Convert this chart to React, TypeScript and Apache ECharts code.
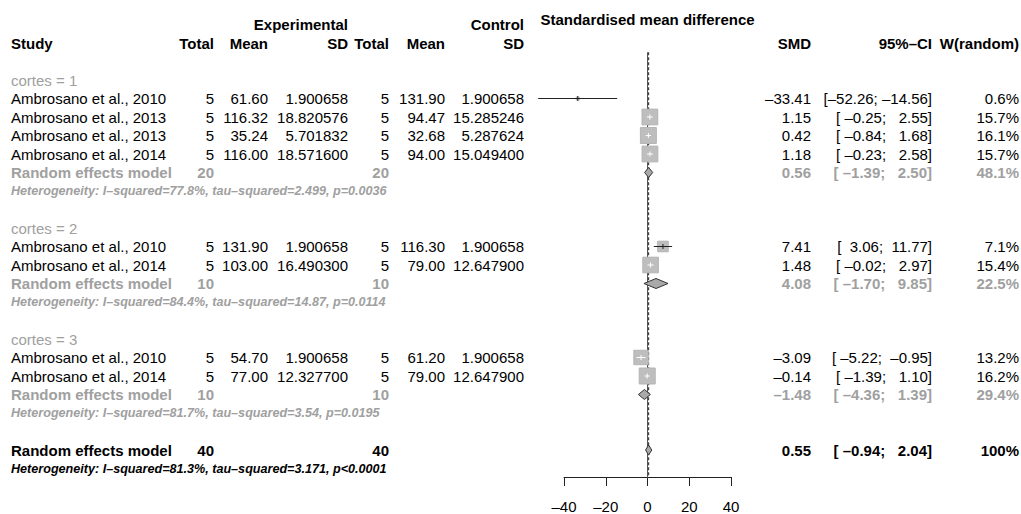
import React, { useEffect, useRef } from "react";
import * as echarts from "echarts";

// ---------- data ----------
const subgroups = ["cortes = 1", "cortes = 2", "cortes = 3"];
const studyNames = [
  "Ambrosano et al., 2010",
  "Ambrosano et al., 2013",
  "Ambrosano et al., 2013",
  "Ambrosano et al., 2014",
  "Ambrosano et al., 2010",
  "Ambrosano et al., 2014",
  "Ambrosano et al., 2010",
  "Ambrosano et al., 2014",
];
const studyGroup = [0, 0, 0, 0, 1, 1, 2, 2];
const totalE = [5, 5, 5, 5, 5, 5, 5, 5];
const meanE = [61.6, 116.32, 35.24, 116.0, 131.9, 103.0, 54.7, 77.0];
const sdE = [1.900658, 18.820576, 5.701832, 18.5716, 1.900658, 16.4903, 1.900658, 12.3277];
const totalC = [5, 5, 5, 5, 5, 5, 5, 5];
const meanC = [131.9, 94.47, 32.68, 94.0, 116.3, 79.0, 61.2, 79.0];
const sdC = [1.900658, 15.285246, 5.287624, 15.0494, 1.900658, 12.6479, 1.900658, 12.6479];
const smd = [-33.41, 1.15, 0.42, 1.18, 7.41, 1.48, -3.09, -0.14];
const ciLow = [-52.26, -0.25, -0.84, -0.23, 3.06, -0.02, -5.22, -1.39];
const ciHigh = [-14.56, 2.55, 1.68, 2.58, 11.77, 2.97, -0.95, 1.1];
const weight = [0.6, 15.7, 16.1, 15.7, 7.1, 15.4, 13.2, 16.2];

const subTotalE = [20, 10, 10];
const subTotalC = [20, 10, 10];
const subSmd = [0.56, 4.08, -1.48];
const subLow = [-1.39, -1.7, -4.36];
const subHigh = [2.5, 9.85, 1.39];
const subWeight = ["48.1%", "22.5%", "29.4%"];
const subI2 = ["77.8%", "84.4%", "81.7%"];
const subTau2 = ["2.499", "14.87", "3.54"];
const subP = ["p=0.0036", "p=0.0114", "p=0.0195"];

const allTotalE = 40;
const allTotalC = 40;
const allSmd = 0.55;
const allLow = -0.94;
const allHigh = 2.04;
const allWeight = "100%";
const allI2 = "81.3%";
const allTau2 = "3.171";
const allP = "p<0.0001";

const xTicks = { min: -40, max: 40, interval: 20 };

// ---------- helpers ----------
const FONT = "'Liberation Sans', Arial, Helvetica, sans-serif";
const BLACK = "#000000";
const GRAY = "#a0a0a0";
const dash = (s: string) => s.replace(/-/g, "\u2013");
const f2 = (v: number) => dash(v.toFixed(2));
const padL = (s: string, w: number) => " ".repeat(Math.max(0, w - s.length)) + s;
const ci = (lo: number, hi: number) => "[" + padL(f2(lo), 6) + "; " + padL(f2(hi), 6) + "]";
const het = (i2: string, t2: string, p: string) =>
  "Heterogeneity: I\u2013squared=" + i2 + ", tau\u2013squared=" + t2 + ", " + p;

// column anchors (layout)
const COL = {
  study: 11,
  nE: 214,
  meanE: 268,
  sdE: 348,
  nC: 389,
  meanC: 445,
  sdC: 524,
  smd: 811,
  ci: 932,
  w: 1019,
};
const HET_SIZE = 12.6;

type T = {
  pos: number;
  x: number;
  text: string;
  align?: string;
  color?: string;
  bold?: boolean;
  italic?: boolean;
  size?: number;
};

// ---------- row layout ----------
const studyPos: number[] = [];
const subPos: number[] = [];
const texts: T[] = [];
let pos = 0;
for (let g = 0; g < subgroups.length; g++) {
  texts.push({ pos, x: COL.study, text: subgroups[g], color: GRAY });
  pos++;
  for (let k = 0; k < studyNames.length; k++) {
    if (studyGroup[k] !== g) continue;
    studyPos[k] = pos;
    texts.push({ pos, x: COL.study, text: studyNames[k] });
    texts.push({ pos, x: COL.nE, text: String(totalE[k]), align: "right" });
    texts.push({ pos, x: COL.meanE, text: meanE[k].toFixed(2), align: "right" });
    texts.push({ pos, x: COL.sdE, text: sdE[k].toFixed(6), align: "right" });
    texts.push({ pos, x: COL.nC, text: String(totalC[k]), align: "right" });
    texts.push({ pos, x: COL.meanC, text: meanC[k].toFixed(2), align: "right" });
    texts.push({ pos, x: COL.sdC, text: sdC[k].toFixed(6), align: "right" });
    texts.push({ pos, x: COL.smd, text: f2(smd[k]), align: "right" });
    texts.push({ pos, x: COL.ci, text: ci(ciLow[k], ciHigh[k]), align: "right" });
    texts.push({ pos, x: COL.w, text: weight[k].toFixed(1) + "%", align: "right" });
    pos++;
  }
  subPos[g] = pos;
  const o = { color: GRAY, bold: true };
  texts.push({ pos, x: COL.study, text: "Random effects model", ...o });
  texts.push({ pos, x: COL.nE, text: String(subTotalE[g]), align: "right", ...o });
  texts.push({ pos, x: COL.nC, text: String(subTotalC[g]), align: "right", ...o });
  texts.push({ pos, x: COL.smd, text: f2(subSmd[g]), align: "right", ...o });
  texts.push({ pos, x: COL.ci, text: ci(subLow[g], subHigh[g]), align: "right", ...o });
  texts.push({ pos, x: COL.w, text: subWeight[g], align: "right", ...o });
  pos++;
  texts.push({ pos, x: COL.study, text: het(subI2[g], subTau2[g], subP[g]), color: GRAY, bold: true, italic: true, size: HET_SIZE });
  pos++;
  pos++;
}
const overallPos = pos;
{
  const o = { color: BLACK, bold: true };
  texts.push({ pos, x: COL.study, text: "Random effects model", ...o });
  texts.push({ pos, x: COL.nE, text: String(allTotalE), align: "right", ...o });
  texts.push({ pos, x: COL.nC, text: String(allTotalC), align: "right", ...o });
  texts.push({ pos, x: COL.smd, text: f2(allSmd), align: "right", ...o });
  texts.push({ pos, x: COL.ci, text: ci(allLow, allHigh), align: "right", ...o });
  texts.push({ pos, x: COL.w, text: allWeight, align: "right", ...o });
  pos++;
  texts.push({ pos, x: COL.study, text: het(allI2, allTau2, allP), color: BLACK, bold: true, italic: true, size: HET_SIZE });
}
// headers
const hb = { bold: true };
texts.push({ pos: -3.25, x: 647.5, text: "Standardised mean difference", align: "center", ...hb });
texts.push({ pos: -3, x: COL.sdE, text: "Experimental", align: "right", ...hb });
texts.push({ pos: -3, x: COL.sdC, text: "Control", align: "right", ...hb });
texts.push({ pos: -2, x: COL.study, text: "Study", ...hb });
texts.push({ pos: -2, x: COL.nE, text: "Total", align: "right", ...hb });
texts.push({ pos: -2, x: COL.meanE, text: "Mean", align: "right", ...hb });
texts.push({ pos: -2, x: COL.sdE, text: "SD", align: "right", ...hb });
texts.push({ pos: -2, x: COL.nC, text: "Total", align: "right", ...hb });
texts.push({ pos: -2, x: COL.meanC, text: "Mean", align: "right", ...hb });
texts.push({ pos: -2, x: COL.sdC, text: "SD", align: "right", ...hb });
texts.push({ pos: -2, x: COL.smd, text: "SMD", align: "right", ...hb });
texts.push({ pos: -2, x: COL.ci, text: "95%\u2013CI", align: "right", ...hb });
texts.push({ pos: -2, x: COL.w, text: "W(random)", align: "right", ...hb });

const studyData = smd.map((v, k) => [v, studyPos[k], ciLow[k], ciHigh[k], weight[k]]);
const diamondData = [
  ...subSmd.map((v, g) => [v, subPos[g], subLow[g], subHigh[g], 0]),
  [allSmd, overallPos, allLow, allHigh, 1],
];
const refTop = -1.5;
const refBottom = overallPos + 1.5;
const refData = [
  [0, refTop, refBottom, 0],
  [allSmd, refTop, refBottom, 1],
];

export default function App() {
  const ref = useRef<HTMLDivElement>(null);
  useEffect(() => {
    if (!ref.current) return;
    const chart = echarts.init(ref.current, null, { renderer: "svg" });
    const option: any = {
      animation: false,
      backgroundColor: "#ffffff",
      grid: [
        { left: 522.25, width: 250.5, top: 6, height: 499.5 },
        { left: 564, width: 167, top: 470, height: 8 },
      ],
      xAxis: [
        { type: "value", gridIndex: 0, min: -60, max: 60, show: false },
        {
          type: "value",
          gridIndex: 1,
          min: xTicks.min,
          max: xTicks.max,
          interval: xTicks.interval,
          position: "bottom",
          axisLine: { show: true, onZero: false, lineStyle: { color: "#222", width: 1 } },
          axisTick: { show: true, inside: false, length: 9, lineStyle: { color: "#222", width: 1 } },
          splitLine: { show: false },
          axisLabel: {
            margin: 22,
            color: BLACK,
            fontSize: 15,
            fontFamily: FONT,
            formatter: (v: number) => dash(String(v)),
          },
        },
      ],
      yAxis: [
        { type: "value", gridIndex: 0, min: -4, max: 23, inverse: true, show: false },
        { type: "value", gridIndex: 1, min: 0, max: 1, show: false },
      ],
      series: [
        {
          type: "custom",
          xAxisIndex: 0,
          yAxisIndex: 0,
          z: 1,
          data: refData,
          renderItem: (params: any, api: any) => {
            const x = api.value(0);
            const a = api.coord([x, api.value(1)]);
            const b = api.coord([x, api.value(2)]);
            const dashed = api.value(3) === 1;
            return {
              type: "line",
              shape: { x1: a[0], y1: a[1], x2: b[0], y2: b[1] },
              style: {
                stroke: dashed ? "#222" : "#555",
                lineWidth: 1,
                lineDash: dashed ? [3, 2] : null,
              },
            };
          },
        },
        {
          type: "custom",
          xAxisIndex: 0,
          yAxisIndex: 0,
          z: 3,
          data: studyData,
          renderItem: (params: any, api: any) => {
            const est = api.value(0);
            const p = api.value(1);
            const [cx, cy] = api.coord([est, p]);
            const x1 = api.coord([api.value(2), p])[0];
            const x2 = api.coord([api.value(3), p])[0];
            const s = Math.max(3, 16 * Math.sqrt(api.value(4) / 16.2));
            const inside = x1 >= cx - s / 2 && x2 <= cx + s / 2;
            const col = inside ? "#ffffff" : "#222222";
            return {
              type: "group",
              children: [
                {
                  type: "line",
                  shape: { x1, y1: cy, x2, y2: cy },
                  style: { stroke: "#333", lineWidth: 1 },
                },
                {
                  type: "rect",
                  shape: { x: cx - s / 2, y: cy - s / 2, width: s, height: s },
                  style: { fill: "#bebebe", stroke: "#b4b4b4", lineWidth: 1 },
                },
                {
                  type: "line",
                  shape: { x1, y1: cy, x2, y2: cy },
                  style: { stroke: col, lineWidth: 1 },
                },
                {
                  type: "line",
                  shape: { x1: cx, y1: cy - 2.5, x2: cx, y2: cy + 2.5 },
                  style: { stroke: col, lineWidth: 1 },
                },
              ],
            };
          },
        },
        {
          type: "custom",
          xAxisIndex: 0,
          yAxisIndex: 0,
          z: 3,
          data: diamondData,
          renderItem: (params: any, api: any) => {
            const p = api.value(1);
            const [cx, cy] = api.coord([api.value(0), p]);
            const x1 = api.coord([api.value(2), p])[0];
            const x2 = api.coord([api.value(3), p])[0];
            const h = 5;
            return {
              type: "polygon",
              shape: {
                points: [
                  [x1, cy],
                  [cx, cy - h],
                  [x2, cy],
                  [cx, cy + h],
                ],
              },
              style: { fill: "#a9a9a9", stroke: "#333", lineWidth: 1 },
            };
          },
        },
        {
          type: "custom",
          xAxisIndex: 0,
          yAxisIndex: 0,
          z: 4,
          clip: false,
          data: texts.map((t) => [0, t.pos]),
          renderItem: (params: any, api: any) => {
            const t = texts[params.dataIndex];
            const y = api.coord([0, api.value(1)])[1];
            return {
              type: "text",
              style: {
                text: t.text,
                x: t.x,
                y,
                fill: t.color || BLACK,
                fontFamily: FONT,
                fontSize: t.size || 15,
                fontWeight: t.bold ? "bold" : "normal",
                fontStyle: t.italic ? "italic" : "normal",
                align: t.align || "left",
                verticalAlign: "middle",
              },
            };
          },
        },
      ],
    };
    chart.setOption(option);
    return () => chart.dispose();
  }, []);
  return (
    <div
      ref={ref}
      style={{ position: "fixed", left: 0, top: 0, width: 1021, height: 514, background: "#fff" }}
    />
  );
}
